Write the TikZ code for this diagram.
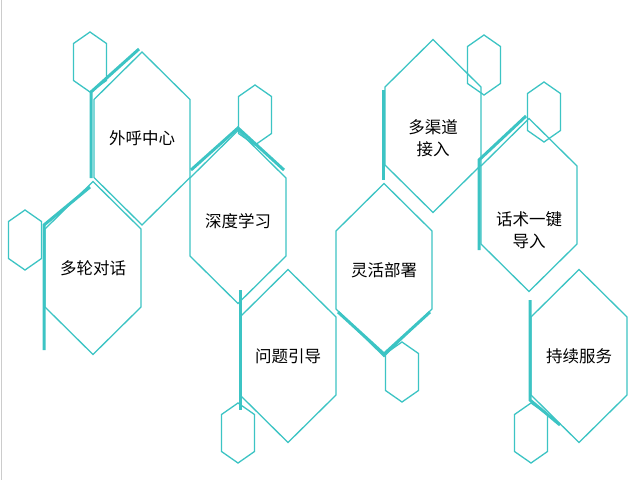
\documentclass[tikz,border=0pt]{standalone}
\usepackage{fontspec}
\newfontfamily\cjk{Noto Sans CJK SC}
\definecolor{tl}{RGB}{60,196,196}
\newcommand\hexa[5]{% x y w h s
  \draw[hx] (#1,#2-#4) -- (#1+#3,#2-#5) -- (#1+#3,#2+#5) -- (#1,#2+#4) -- (#1-#3,#2+#5) -- (#1-#3,#2-#5) -- cycle;}
\begin{document}
\begin{tikzpicture}[x=1pt,y=-1pt,hx/.style={draw=tl,line width=1.3pt,line join=miter},
  acc/.style={draw=tl,line width=3pt},
  lbl/.style={font=\cjk\fontsize{16.5}{22}\selectfont,align=center,inner sep=0pt}]
\useasboundingbox (0,0) rectangle (640,480);
\fill[white] (0,0) rectangle (640,480);
\draw[gray!40,line width=1pt] (1,0) -- (1,480);
% big hexagons
\hexa{142}{138.5}{48}{86.5}{39}
\hexa{93}{268}{48}{86.5}{39}
\hexa{238}{217}{48}{86.5}{39}
\hexa{288}{356}{48}{86.5}{39}
\hexa{384}{270}{48}{86.5}{39}
\hexa{433}{126}{48}{86.5}{39}
\hexa{529}{205}{48}{86.5}{39}
\hexa{579}{356}{48}{86.5}{39}
% small hexagons
\hexa{90}{62}{16.5}{30}{18.5}
\hexa{25}{240}{16.5}{30}{18.5}
\hexa{255}{115}{16.5}{30}{18.5}
\hexa{484}{65}{16.5}{30}{18.5}
\hexa{544}{112}{16.5}{30}{18.5}
\hexa{402}{372}{16.5}{30}{18.5}
\hexa{238}{433}{16.5}{30}{18.5}
\hexa{531}{433}{16.5}{30}{18.5}
% accents
\draw[acc] (139,49) -- (91,92) -- (91,178);
\draw[acc] (90,187) -- (44,225) -- (44,350);
\draw[acc] (191,170) -- (238,128) -- (284,170);
\draw[acc] (240,290) -- (240,410);
\draw[acc] (338,312) -- (384,354) -- (430,312);
\draw[acc] (383,90) -- (383,180);
\draw[acc] (526,116) -- (479,160) -- (479,250);
\draw[acc] (530,300) -- (530,400) -- (560,425);
% labels
\node[lbl] (n1) at (142,138) {外呼中心};
\node[lbl] (n2) at (93,268) {多轮对话};
\node[lbl] (n3) at (238,221) {深度学习};
\node[lbl] (n4) at (288,356) {问题引导};
\node[lbl] (n5) at (384,270) {灵活部署};
\node[lbl] (n6) at (433,138) {多渠道\\接入};
\node[lbl] (n7) at (529,230) {话术一键\\导入};
\node[lbl] (n8) at (579,356) {持续服务};
\end{tikzpicture}
\end{document}
